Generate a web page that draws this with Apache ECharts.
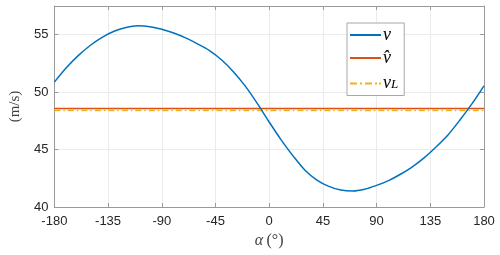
<!DOCTYPE html>
<html>
<head>
<meta charset="utf-8">
<script src="https://cdn.jsdelivr.net/npm/echarts@6/dist/echarts.min.js"></script>
<style>html,body{margin:0;padding:0;background:#fff}#c{width:500px;height:255px}</style>
</head>
<body>
<div id="c"></div>
<script>
// Data
const alphaDeg = [-180,-170,-160,-150,-140,-130,-120,-110,-100,-90,-80,-70,-60,-50,-40,-30,-20,-10,0,10,20,30,40,50,60,70,80,90,100,110,120,130,140,150,160,170,180];
const vValues  = [50.87,52.12,53.18,54.06,54.77,55.3,55.62,55.77,55.7,55.48,55.15,54.72,54.2,53.62,52.82,51.78,50.52,49.02,47.4,45.85,44.45,43.2,42.35,41.8,41.48,41.4,41.55,41.88,42.3,42.85,43.5,44.3,45.25,46.3,47.6,49.0,50.55];
const vHat = 48.57;
const vL = 48.4;
const xTicks = [-180,-135,-90,-45,0,45,90,135,180];
const yTicks = [40,45,50,55];
const seriesNames = ['v','v\u0302','vL'];

const vData = alphaDeg.map((a,i)=>[a,vValues[i]]);
const hatData = [[alphaDeg[0],vHat],[alphaDeg[alphaDeg.length-1],vHat]];
const lData = [[alphaDeg[0],vL],[alphaDeg[alphaDeg.length-1],vL]];

const axisCol = '#9a9a9a';
const gridCol = '#ebebeb';
const labelCol = '#262626';
const sans = 'Liberation Sans';
const serif = 'Liberation Serif';

const chart = echarts.init(document.getElementById('c'), null, {renderer:'canvas'});
const xBase = {type:'value', min:-180, max:180, interval:45};
const yBase = {type:'value', min:40, max:57.5, interval:5};
chart.setOption({
  animation:false,
  grid:{left:46, right:16, top:6, bottom:48},
  xAxis:[
    Object.assign({}, xBase, {
      position:'bottom',
      axisLine:{show:true, onZero:false, lineStyle:{color:axisCol, width:1}},
      axisTick:{show:true, inside:true, length:4, lineStyle:{color:axisCol}},
      axisLabel:{color:labelCol, fontFamily:sans, fontSize:13, margin:8,
        formatter:v=>xTicks.indexOf(v)>=0? String(v):''},
      splitLine:{show:true, lineStyle:{color:gridCol, width:1}},
      name:'{a|\u03b1} {b|(\u00b0)}', nameLocation:'middle', nameGap:25,
      nameTextStyle:{rich:{a:{fontFamily:serif, fontStyle:'italic', fontSize:16, color:'#404040'},
                           b:{fontFamily:serif, fontSize:16, color:'#404040'}}}
    }),
    Object.assign({}, xBase, {
      position:'top',
      axisLine:{show:true, onZero:false, lineStyle:{color:axisCol, width:1}},
      axisTick:{show:true, inside:true, length:4, lineStyle:{color:axisCol}},
      axisLabel:{show:false}, splitLine:{show:false}
    })
  ],
  yAxis:[
    Object.assign({}, yBase, {
      position:'left',
      axisLine:{show:true, onZero:false, lineStyle:{color:axisCol, width:1}},
      axisTick:{show:true, inside:true, length:4, lineStyle:{color:axisCol}},
      axisLabel:{color:labelCol, fontFamily:sans, fontSize:13, margin:6,
        formatter:v=>yTicks.indexOf(v)>=0? String(v):''},
      splitLine:{show:true, lineStyle:{color:gridCol, width:1}},
      name:'(m/s)', nameLocation:'middle', nameGap:30,
      nameTextStyle:{fontFamily:serif, fontSize:15, color:'#404040'}
    }),
    Object.assign({}, yBase, {
      position:'right',
      axisLine:{show:true, onZero:false, lineStyle:{color:axisCol, width:1}},
      axisTick:{show:true, inside:true, length:4, lineStyle:{color:axisCol}},
      axisLabel:{show:false}, splitLine:{show:false}
    })
  ],
  legend:{
    orient:'vertical', left:347, top:23, padding:[3,6,3,3], itemGap:5,
    itemWidth:31, itemHeight:15,
    backgroundColor:'#fff', borderColor:'#a8a8a8', borderWidth:1,
    data:[
      {name:seriesNames[0], icon:'path://M0,7h31v2h-31z'},
      {name:seriesNames[1], icon:'path://M0,7h31v2h-31z'},
      {name:seriesNames[2], icon:'path://M0,7h7v2h-7z M10,7h2v2h-2z M15,7h7v2h-7z M25,7h2v2h-2z M29,7h2v2h-2z'}
    ],
    formatter:function(n){
      if(n==='vL') return '{i|v}{s|L}';
      return '{i|'+n+'}';
    },
    textStyle:{padding:[0,0,0,-3], rich:{
      i:{fontFamily:serif, fontStyle:'italic', fontSize:18, lineHeight:15, color:'#000'},
      s:{fontFamily:serif, fontStyle:'italic', fontSize:13, lineHeight:15, color:'#000', verticalAlign:'bottom', padding:[6,0,0,0]}
    }}
  },
  series:[
    {name:seriesNames[0], type:'line', data:vData, smooth:0.3, showSymbol:false,
      lineStyle:{color:'#0072BD', width:1.5}, itemStyle:{color:'#0072BD'}, z:3},
    {name:seriesNames[1], type:'line', data:hatData, showSymbol:false,
      lineStyle:{color:'#D95319', width:1.5}, itemStyle:{color:'#D95319'}, z:2},
    {name:seriesNames[2], type:'line', data:lData, showSymbol:false,
      lineStyle:{color:'#EDB120', width:1.5, type:[6,3,1.5,3]}, itemStyle:{color:'#EDB120'}, z:1}
  ]
});
</script>
</body>
</html>
